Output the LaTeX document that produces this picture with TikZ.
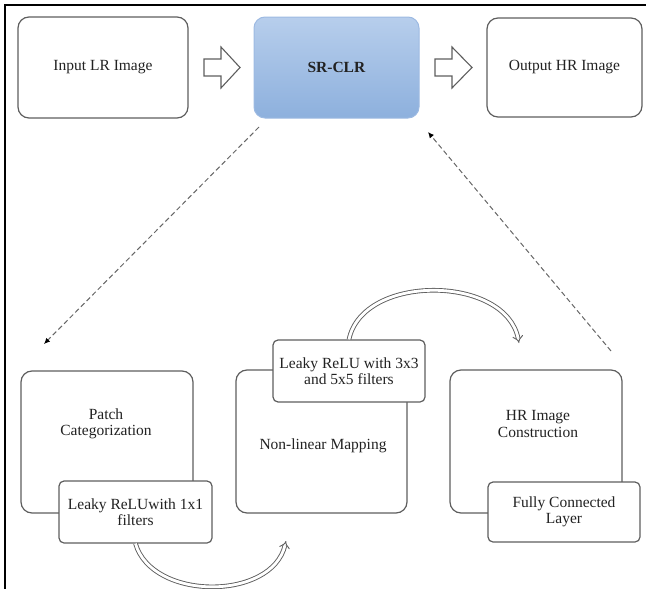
\documentclass[tikz,border=0pt]{standalone}
\usepackage{fontspec}
\setmainfont{Liberation Serif}
\usetikzlibrary{arrows.meta}
\definecolor{boxline}{HTML}{5E5E5E}
\definecolor{txtcol}{HTML}{222222}
\definecolor{srtop}{HTML}{B7CEEC}
\definecolor{srbot}{HTML}{8DB0DD}
\definecolor{srline}{HTML}{9DBAE2}
\definecolor{dashcol}{HTML}{666666}
\tikzset{
  bigbox/.style={draw=boxline, line width=1.2pt, rounded corners=11pt, fill=white, inner sep=0pt},
  smallbox/.style={draw=boxline, line width=1.2pt, rounded corners=5pt, fill=white, align=center, inner sep=0pt, text=txtcol},
  srbox/.style={draw=srline, line width=1pt, rounded corners=11pt, top color=srtop, bottom color=srbot, inner sep=0pt, text=txtcol},
  txt/.style={align=center, text=txtcol, inner sep=0pt},
  blockarrow/.style={draw=boxline, line width=1.1pt, fill=white, line join=miter},
  dasharrow/.style={draw=dashcol, line width=1pt, dash pattern=on 5pt off 3pt, -{Latex[length=6pt,width=5.5pt,color=black]}},
  curvearrow/.style={draw=boxline, line width=0.9pt, double=white, double distance=2.8pt, -{Implies}},
  frameline/.style={draw=black, line width=2.6pt}
}
\begin{document}
\begin{tikzpicture}[x=1pt,y=-1pt, font=\fontsize{15.5}{16.5}\selectfont]
\useasboundingbox (0,0) rectangle (651,589);
% frame (left and top)
\draw[frameline] (5,589) -- (5,5) -- (646,5);
% top row
\node[bigbox, minimum width=170pt, minimum height=101pt, txt] (inp) at (103,67.5) {Input LR Image};
\node[srbox, minimum width=165pt, minimum height=101pt] (sr) at (336.5,67.5) {\textbf{SR-CLR}};
\node[bigbox, minimum width=155pt, minimum height=99pt, txt] (out) at (564.5,67.5) {Output HR Image};
% hollow block arrows
\draw[blockarrow] (204,59) -- (221,59) -- (221,47) -- (240,67.5) -- (221,88) -- (221,76) -- (204,76) -- cycle;
\draw[blockarrow] (435,59) -- (452,59) -- (452,47) -- (472,67.5) -- (452,88) -- (452,76) -- (435,76) -- cycle;
% bottom row big boxes
\node[bigbox, minimum width=172pt, minimum height=142pt] (pc) at (107,442) {};
\node[txt] (pct) at (106,424) {Patch\\Categorization};
\node[bigbox, minimum width=171pt, minimum height=143pt] (nl) at (321.5,441.5) {};
\node[txt] (nlt) at (323,446) {Non-linear Mapping};
\node[bigbox, minimum width=172pt, minimum height=143pt] (hr) at (536,441.5) {};
\node[txt] (hrt) at (538,424) {HR Image\\Construction};
% small overlapping boxes
\node[smallbox, minimum width=153pt, minimum height=62pt] (l1) at (135.5,512) {Leaky ReLUwith 1x1\\filters};
\node[smallbox, minimum width=152pt, minimum height=62pt] (l3) at (349,371) {Leaky ReLU with 3x3\\and 5x5 filters};
\node[smallbox, minimum width=152pt, minimum height=60pt] (fc) at (564,512) {Fully Connected\\Layer};
% dashed connectors
\coordinate (d1s) at (259,127);
\coordinate (d1e) at (44,344);
\coordinate (d2s) at (611,351);
\coordinate (d2e) at (428,132);
\draw[dasharrow] (d1s) -- (d1e);
\draw[dasharrow] (d2s) -- (d2e);
% curved double arrows
\coordinate (c1e) at (286,541);
\coordinate (c3e) at (519,343);
\draw[curvearrow] (l1.south) .. controls (152,601) and (272,601) .. (c1e);
\draw[curvearrow] (l3.north) .. controls (363,273) and (506,275) .. (c3e);
\end{tikzpicture}
\end{document}
